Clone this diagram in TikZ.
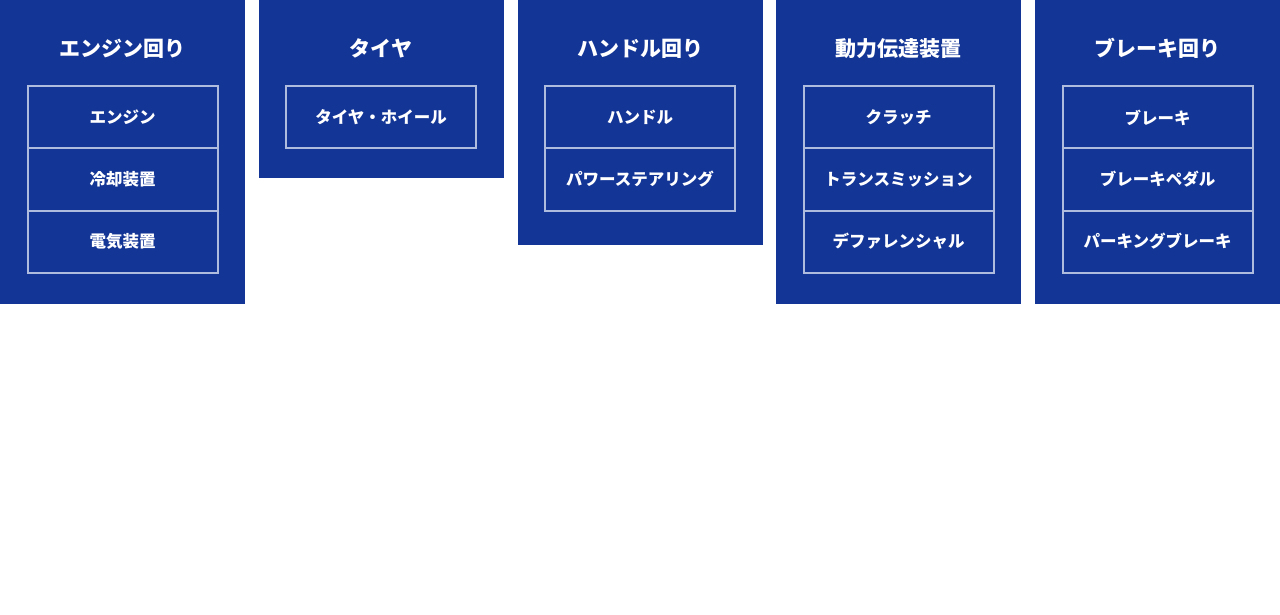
\documentclass[tikz,border=0pt]{standalone}
\usepackage{fontspec}
\newfontfamily\jp{Noto Sans CJK JP}
\definecolor{panelblue}{HTML}{133596}
\definecolor{rowline}{HTML}{B0BCDE}
\begin{document}
\begin{tikzpicture}[x=1pt,y=-1pt,
  panel/.style={fill=panelblue,draw=none,anchor=north west,minimum width=245pt,inner sep=0pt,outer sep=0pt},
  ptitle/.style={text=white,font=\jp\bfseries\fontsize{21}{25}\selectfont,inner sep=0pt},
  row/.style={draw=rowline,line width=2pt,anchor=north west,minimum width=190pt,minimum height=62pt,inner sep=0pt,outer sep=0pt,text=white,font=\jp\bfseries\fontsize{16.5}{19}\selectfont}]
\useasboundingbox (0,0) rectangle (1280,615);
\fill[white] (0,0) rectangle (1280,615);
% panels
\node[panel,minimum height=304pt] (p1) at (0,0) {};
\node[panel,minimum height=178pt] (p2) at (259,0) {};
\node[panel,minimum height=245pt] (p3) at (517.5,0) {};
\node[panel,minimum height=304pt] (p4) at (776,0) {};
\node[panel,minimum height=304pt] (p5) at (1035,0) {};
% titles
\node[ptitle] (t1) at (122.5,48.5) {エンジン回り};
\node[ptitle] (t2) at (381,48.5) {タイヤ};
\node[ptitle] (t3) at (640,48.5) {ハンドル回り};
\node[ptitle] (t4) at (898.5,48.5) {動力伝達装置};
\node[ptitle] (t5) at (1157.5,48.5) {ブレーキ回り};
% rows
\node[row] (r11) at (27.5,86.5) {エンジン};
\node[row] (r12) at (27.5,148.5) {冷却装置};
\node[row] (r13) at (27.5,210.5) {電気装置};
\node[row] (r21) at (286,86.5) {タイヤ・ホイール};
\node[row] (r31) at (545,86.5) {ハンドル};
\node[row] (r32) at (545,148.5) {パワーステアリング};
\node[row] (r41) at (803.5,86.5) {クラッチ};
\node[row] (r42) at (803.5,148.5) {トランスミッション};
\node[row] (r43) at (803.5,210.5) {デファレンシャル};
\node[row] (r51) at (1062.5,86.5) {ブレーキ};
\node[row] (r52) at (1062.5,148.5) {ブレーキペダル};
\node[row] (r53) at (1062.5,210.5) {パーキングブレーキ};
\end{tikzpicture}
\end{document}
